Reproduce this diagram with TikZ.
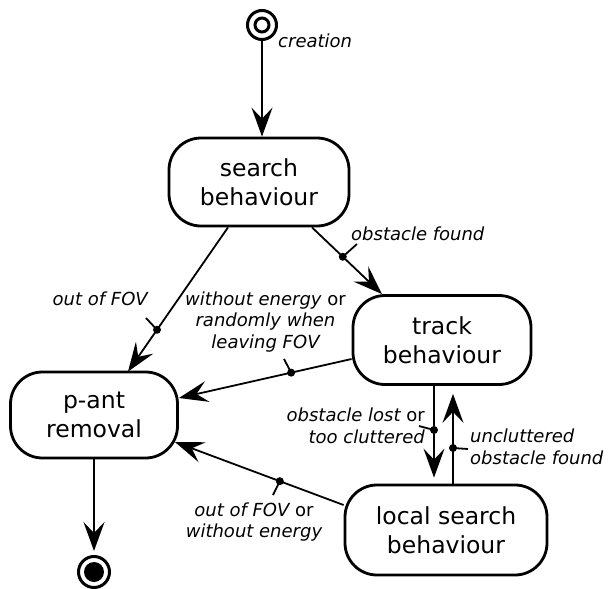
\documentclass[tikz,border=0pt]{standalone}
\usepackage{fontspec}
\setmainfont{DejaVu Sans}
\usetikzlibrary{arrows.meta,calc}
\begin{document}
\begin{tikzpicture}[x=1pt,y=-1pt,
  state/.style={draw, line width=2.8pt, rounded corners=32pt, align=center,
    font=\fontsize{23.5}{29}\selectfont, inner sep=0pt},
  conn/.style={line width=1.8pt, -{Stealth[length=29pt,width=21pt,inset=11pt]}},
  lbl/.style={font=\fontsize{18}{21.5}\selectfont\itshape, inner sep=0pt},
  dotc/.style={circle, fill, inner sep=0pt, minimum size=8pt},
  tickline/.style={line width=1.8pt}
]
\useasboundingbox (0,0) rectangle (611,589);

% states
\node[state, minimum width=180pt, minimum height=88pt] (search) at (259,182) {search\\behaviour};
\node[state, minimum width=178pt, minimum height=89pt] (track) at (442,340) {track\\behaviour};
\node[state, minimum width=167pt, minimum height=86pt] (pant) at (94,415) {p-ant\\removal};
\node[state, minimum width=202pt, minimum height=90pt] (local) at (446,530) {local search\\behaviour};

% start and end
\node[circle, draw, line width=3pt, minimum size=29pt, inner sep=0pt] (start) at (262,25) {};
\node[circle, draw, line width=3pt, minimum size=14pt, inner sep=0pt] (startin) at (start) {};
\node[circle, draw, line width=3pt, minimum size=31pt, inner sep=0pt] (end) at (94,572) {};
\node[circle, fill, minimum size=20pt, inner sep=0pt] (endin) at (end) {};

% labels
\node[lbl, anchor=base west] (lcreation) at (278,47) {creation};
\node[lbl, anchor=base west] (lobst) at (351,240) {obstacle found};
\node[lbl, anchor=base east] (lfov) at (148,305) {out of FOV};
\node[lbl, align=center] (lenergy) at (265.5,322) {without energy {\upshape or}\\randomly when\\leaving FOV};
\node[lbl, align=right, anchor=east] (llost) at (425,426) {obstacle lost {\upshape or}\\too cluttered};
\node[lbl, align=left, anchor=west] (lunclut) at (470,447) {uncluttered\\obstacle found};
\node[lbl, align=center] (lfov2) at (254,522) {out of FOV {\upshape or}\\without energy};

% connectors
\draw[conn] (start.south) -- (start.south |- search.north);

\coordinate (a2) at ([xshift=53pt]search.south);
\coordinate (b2) at ([xshift=-60pt]track.north);
\draw[conn] (a2) -- (b2);
\node[dotc] (d2) at ($(a2)!0.44!(b2)$) {};
\coordinate (t2) at (357,244);
\draw[tickline] (d2.center) -- (t2);

\coordinate (a3) at ([xshift=-31pt]search.south);
\coordinate (b3) at ([xshift=34pt,yshift=-1pt]pant.north);
\draw[conn] (a3) -- (b3);
\node[dotc] (d3) at ($(a3)!0.71!(b3)$) {};
\coordinate (t3) at (146,318);
\draw[tickline] (d3.center) -- (t3);

\coordinate (a4) at ([yshift=-19pt]track.west);
\coordinate (b4) at ([yshift=17pt]pant.east);
\draw[conn] (a4) -- (b4);
\node[dotc] (d4) at ($(a4)!0.35!(b4)$) {};
\coordinate (t4) at (284,359);
\draw[tickline] (d4.center) -- (t4);

\coordinate (a5) at ([xshift=-8pt]track.south);
\coordinate (b5) at (a5 |- local.north);
\draw[conn, shorten >=6pt] (a5) -- (b5);
\node[dotc] (d5) at (a5 |- 0,430) {};
\coordinate (t5) at (419,426);
\draw[tickline] (d5.center) -- (t5);

\coordinate (a6) at ([xshift=11pt]track.south |- local.north);
\coordinate (b6) at ([xshift=11pt]track.south);
\draw[conn, shorten >=8pt] (a6) -- (b6);
\node[dotc] (d6) at (a6 |- 0,448) {};
\coordinate (t6) at (468,449);
\draw[tickline] (d6.center) -- (t6);

\coordinate (a7) at ([yshift=25pt]local.west);
\coordinate (b7) at ([xshift=-4pt,yshift=-27pt]pant.east);
\draw[conn] (a7) -- (b7);
\node[dotc] (d7) at ($(a7)!0.378!(b7)$) {};
\coordinate (t7) at (273,495);
\draw[tickline] (d7.center) -- (t7);

\draw[conn, shorten >=4pt] (pant.south) -- (end.north);
\end{tikzpicture}
\end{document}
